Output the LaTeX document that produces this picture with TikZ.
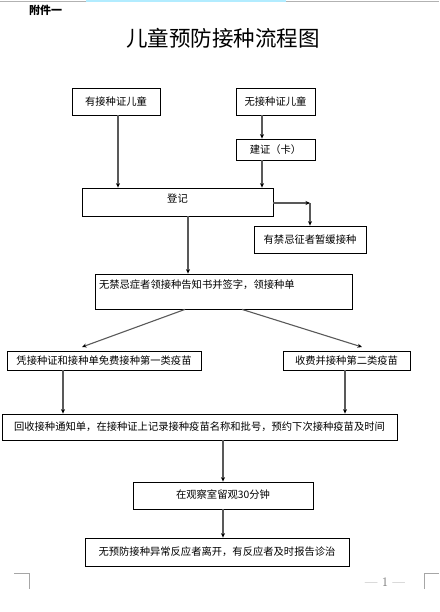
\documentclass[tikz,border=0pt]{standalone}
\usepackage{fontspec}
\newfontfamily\cjk{Noto Sans CJK SC}
\usetikzlibrary{arrows.meta}
\begin{document}
\begin{tikzpicture}[x=1pt,y=-1pt,
  box/.style={draw=black,line width=0.8pt,inner sep=0pt,font=\cjk\fontsize{10.3}{12}\selectfont},
  arr/.style={draw=black!65,line width=1.1pt,-{Stealth[length=4.5pt,width=4pt,black]}},
  ln/.style={draw=black!65,line width=1.1pt}]
\useasboundingbox (0,0) rectangle (439,612);
% top bar
\draw[black!30,line width=1pt] (0,2) -- (439,2);
\fill[blue!25!cyan!30] (86,0) rectangle (286,2.2);
% header and title
\node[font=\cjk\bfseries\fontsize{11}{13}\selectfont,anchor=west,inner sep=0pt] (fj) at (29,10) {附件一};
\node[font=\cjk\fontsize{21.5}{24}\selectfont,inner sep=0pt] (title) at (223,38) {儿童预防接种流程图};
% boxes
\node[box,minimum width=88pt,minimum height=27pt] (A) at (116,101.5) {有接种证儿童};
\node[box,minimum width=79pt,minimum height=27pt] (B) at (275.5,101.5) {无接种证儿童};
\node[box,minimum width=79pt,minimum height=21pt] (C) at (275.5,149.5) {建证（卡）};
\node[box,minimum width=191pt,minimum height=28pt] (R) at (177.5,202) {登记\rule[-8pt]{0pt}{0pt}};
\node[box,minimum width=112pt,minimum height=27pt] (J) at (310,239.5) {有禁忌征者暂缓接种};
\node[box,minimum width=257pt,minimum height=35pt,text width=249pt,align=left,inner xsep=4pt] (D) at (223.5,291.5) {无禁忌症者领接种告知书并签字，领接种单\\ \strut};
\node[box,minimum width=194pt,minimum height=19pt] (E) at (104,360.5) {凭接种证和接种单免费接种第一类疫苗};
\node[box,minimum width=127pt,minimum height=19pt] (F) at (346.5,360.5) {收费并接种第二类疫苗};
\node[box,minimum width=395pt,minimum height=26pt] (G) at (199.5,427) {回收接种通知单，在接种证上记录接种疫苗名称和批号，预约下次接种疫苗及时间};
\node[box,minimum width=180pt,minimum height=27pt] (H) at (223,495.5) {在观察室留观30分钟\rule[-3pt]{0pt}{0pt}};
\node[box,minimum width=264pt,minimum height=28pt] (I) at (217,552) {无预防接种异常反应者离开，有反应者及时报告诊治};
% coordinates
\coordinate (xb) at (262,0);
\coordinate (k) at (310,203);
\coordinate (xa) at (118,0);
\coordinate (xr) at (188,0);
\coordinate (d1) at (185,0);
\coordinate (d2) at (242,0);
\coordinate (e1) at (82,347);
\coordinate (f1) at (362,347);
\coordinate (xe) at (63,0);
\coordinate (xf) at (345,0);
% connectors
\draw[arr] (A.south -| xa) -- (R.north -| xa);
\draw[arr] (B.south -| xb) -- (C.north -| xb);
\draw[arr] (C.south -| xb) -- (R.north -| xb);
\draw[arr] (R.east |- k) -- (k);
\draw[arr] (k) -- (J.north);
\draw[arr] (R.south -| xr) -- (D.north -| xr);
\draw[arr] (D.south -| d1) -- (e1);
\draw[arr] (D.south -| d2) -- (f1);
\draw[arr] (E.south -| xe) -- (G.north -| xe);
\draw[arr] (F.south -| xf) -- (G.north -| xf);
\draw[arr] (G.south -| H.north) -- (H.north);
\draw[arr] (H.south) -- (I.north -| H.south);
% page number and corner marks
\node[text=black!55,font=\fontsize{13}{15}\selectfont,inner sep=0pt] (pg) at (385,582) {— 1 —};
\draw[black!35,line width=0.8pt] (14,573) -- (29,573) -- (29,589);
\draw[black!35,line width=0.8pt] (424,589) -- (424,573) -- (439,573);
\end{tikzpicture}
\end{document}
